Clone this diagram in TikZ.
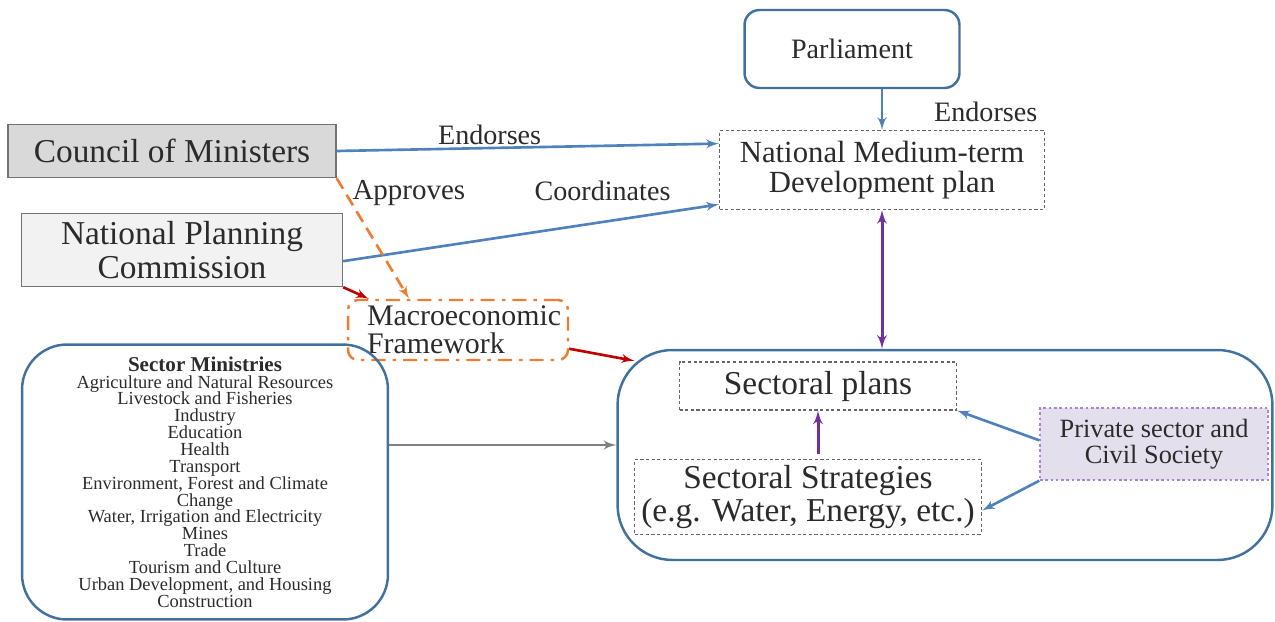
\documentclass[tikz,border=0pt]{standalone}
\usepackage{fontspec}
\setmainfont{Liberation Serif}
\usetikzlibrary{arrows,calc,positioning}

\definecolor{edgeblue}{HTML}{4F81BD}
\definecolor{boxblue}{HTML}{41719C}
\definecolor{approveorange}{HTML}{ED7D31}
\definecolor{linkred}{HTML}{C00000}
\definecolor{linkpurple}{HTML}{7030A0}
\definecolor{privfill}{HTML}{E4DFEC}
\definecolor{privline}{HTML}{B084CC}
\definecolor{textgray}{HTML}{2B2B2B}

\begin{document}
\begin{tikzpicture}[
    x=0.02cm,
    y=-0.02cm,
    >=latex',
    line width=1.5pt,
    text=textgray,
    roundbox/.style={draw=boxblue, line width=1.4pt, rounded corners=0.3cm},
    planbox/.style={draw=black!60, line width=0.6pt, dash pattern=on 1.8pt off 1.4pt},
    greybox/.style={draw=black!55, line width=0.8pt, align=center},
    lbl/.style={font=\fontsize{16}{18}\selectfont},
    blueline/.style={draw=edgeblue, line width=1.5pt, ->},
    redline/.style={draw=linkred, line width=1.5pt, ->},
    purpleline/.style={draw=linkpurple, line width=1.7pt}
]
	\useasboundingbox (0,0) rectangle (1275,622);

	\node[roundbox, minimum width=4.3cm, minimum height=1.56cm,
	      font=\fontsize{16}{19}\selectfont] (Parl) at (852,49) {Parliament};
	\node[planbox, minimum width=6.5cm, minimum height=1.58cm, align=center,
	      font=\fontsize{17.5}{17}\selectfont] (NMTDP) at (882,170)
	      {National Medium-term\\Development plan};

	\node[greybox, fill=black!15, minimum width=6.56cm, minimum height=1.06cm,
	      font=\fontsize{19}{19}\selectfont] (Council) at (172,151) {Council of Ministers};
	\node[greybox, fill=black!5, minimum width=6.42cm, minimum height=1.46cm,
	      font=\fontsize{19}{19.5}\selectfont] (NPC) at (182,250)
	      {National Planning\\Commission};

	\node[draw=approveorange, line width=1.4pt, rounded corners=0.2cm,
	      dash pattern=on 8pt off 4pt on 2pt off 4pt,
	      minimum width=4.4cm, minimum height=1.2cm,
	      text width=3.64cm, inner xsep=0.38cm, align=left,
	      font=\fontsize{17}{16}\selectfont] (Macro) at (458,330)
	      {Macroeconomic\\Framework};

	\node[roundbox, rounded corners=0.9cm, minimum width=7.32cm, minimum height=5.5cm,
	      align=center, font=\fontsize{10.5}{9.6}\selectfont] (Ministries) at (205,482)
	      {{\fontsize{12}{12}\selectfont\bfseries Sector Ministries}\\
	       Agriculture and Natural Resources\\
	       Livestock and Fisheries\\
	       Industry\\
	       Education\\
	       Health\\
	       Transport\\
	       Environment, Forest and Climate\\
	       Change\\
	       Water, Irrigation and Electricity\\
	       Mines\\
	       Trade\\
	       Tourism and Culture\\
	       Urban Development, and Housing\\
	       Construction};

	\node[roundbox, rounded corners=1.1cm, minimum width=13.1cm,
	      minimum height=4.2cm] (Sectoral) at (945,455) {};
	\node[planbox, minimum width=5.54cm, minimum height=0.96cm,
	      font=\fontsize{19}{19}\selectfont] (Plans) at (818,386) {Sectoral plans};
	\node[planbox, minimum width=6.94cm, minimum height=1.38cm, align=center,
	      font=\fontsize{19}{17}\selectfont] (Strategies) at (808,497)
	      {Sectoral Strategies\\(e.g. Water, Energy, etc.)};
	\node[draw=privline, fill=privfill, line width=0.8pt, dash pattern=on 1.5pt off 1.5pt,
	      minimum width=4.56cm, minimum height=1.44cm, align=center,
	      font=\fontsize{15}{15}\selectfont] (Private) at (1154,444)
	      {Private sector and\\Civil Society};

	\coordinate (GreyStart) at ($(Ministries.east)+(0,-37)$);

	\path
		(Parl.south -| NMTDP.north) edge[blueline] node[lbl, pos=0.55, right=0.9cm] {Endorses} (NMTDP.north)
		(Council.east) edge[blueline] node[lbl, pos=0.4, above=-2pt] {Endorses}
			($(NMTDP.north west)!0.17!(NMTDP.south west)$)
		($(NPC.north east)!0.65!(NPC.south east)$) edge[blueline]
			node[lbl, pos=0.69, above=8pt] {Coordinates}
			($(NMTDP.north west)!0.93!(NMTDP.south west)$)
		(Council.south east) edge[draw=approveorange, line width=1.5pt, ->, dash pattern=on 7pt off 4pt]
			node[lbl, font=\fontsize{16.5}{18}\selectfont, pos=0.12, right] {Approves}
			($(Macro.north west)!0.28!(Macro.north east)$)
		(NPC.south east) edge[redline] ($(Macro.north west)+(22,0)$)
		($(Macro.north east)!0.8!(Macro.south east)$) edge[redline]
			($(Sectoral.north west)+(18,12)$)
		(GreyStart) edge[draw=black!50, line width=1.5pt, ->] (GreyStart -| Sectoral.west)
		(NMTDP.south) edge[purpleline, <->] (NMTDP.south |- Sectoral.north)
		(Strategies.north -| Plans.south) edge[purpleline, ->, shorten <=3pt] (Plans.south)
		($(Private.north west)!0.45!(Private.south west)$) edge[blueline] (Plans.south east)
		(Private.south west) edge[blueline]
			($(Strategies.north east)!0.68!(Strategies.south east)$);
\end{tikzpicture}
\end{document}
